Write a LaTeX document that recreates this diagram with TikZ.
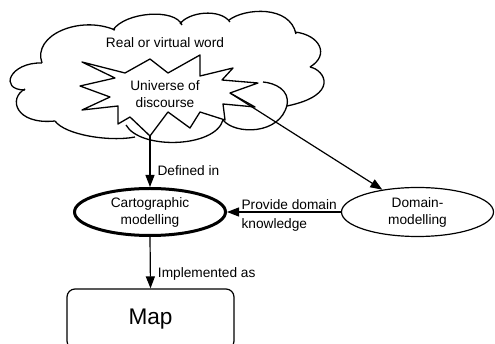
\documentclass[tikz,border=0pt]{standalone}
\usepackage{fontspec}
\setmainfont{Liberation Sans}
\usetikzlibrary{shapes.geometric,arrows.meta}
\begin{document}
\begin{tikzpicture}[x=1pt,y=-1pt,
  line width=1.2pt, line join=round,
  txt/.style={font=\fontsize{13.7}{17}\selectfont, inner sep=0pt, align=center},
  lbl/.style={font=\fontsize{13.7}{17}\selectfont, inner sep=0pt},
  arr/.style={-{Triangle[length=12pt,width=9pt]}, line width=1.2pt},
  oval/.style={ellipse, draw, inner sep=0pt, align=center, font=\fontsize{13.7}{17}\selectfont},
  cloudline/.style={line width=1.3pt}
]
\useasboundingbox (0,0) rectangle (495,344);
\clip (0,0) rectangle (495,344);

% cloud lobes
\draw[cloudline] (42,63) .. controls (32,35) and (80,15) .. (115,30);
\draw[cloudline] (113,30) .. controls (125,12) and (175,8) .. (182,25);
\draw[cloudline] (180,24) .. controls (188,12) and (220,8) .. (230,22);
\draw[cloudline] (229,20) .. controls (245,8) and (290,5) .. (296,34);
\draw[cloudline] (295,32) .. controls (320,35) and (330,55) .. (310,67);
\draw[cloudline] (310,67) .. controls (325,70) and (340,95) .. (287,106);
\draw[cloudline] (223,120) .. controls (235,135) and (280,135) .. (287,105)
                 .. controls (290,90) and (275,83) .. (263,82);
\draw[cloudline] (126,125) .. controls (140,150) and (215,148) .. (223,120);
\draw[cloudline] (55,121) .. controls (65,135) and (110,142) .. (135,137);
\draw[cloudline] (25,89) .. controls (8,98) and (15,125) .. (55,121);
\draw[cloudline] (42,63) .. controls (10,62) and (-2,90) .. (25,90);

% starburst
\draw[cloudline] (82,62) -- (125,73) -- (150,59) -- (168,73) -- (200,55) -- (200,76)
  -- (233,68) -- (222,80) -- (258,83) -- (230,93) -- (255,107) -- (223,104)
  -- (225,120) -- (200,112) -- (190,128) -- (168,112) -- (150,136) -- (130,117)
  -- (118,124) -- (118,106) -- (82,110) -- (110,97) -- (80,86) -- (115,78) -- cycle;

\coordinate (startip) at (150,136);
\coordinate (starright) at (230,93);

\node[txt] (world) at (165,43) {Real or virtual word};
\node[txt] (universe) at (165,94) {Universe of\\discourse};

\node[oval, line width=3pt, minimum width=151pt, minimum height=47pt] (carto) at (150,212) {Cartographic\\modelling};
\node[oval, minimum width=152pt, minimum height=49pt] (domain) at (417.5,212) {Domain-\\modelling};

\node[draw, rounded corners=8pt, minimum width=167pt, minimum height=60pt, inner sep=0pt,
      font=\fontsize{22.6}{26}\selectfont] (map) at (150.5,319) {Map};

\draw[arr] (startip) -- (carto.north) node[lbl, pos=0.68, anchor=west, xshift=7pt] (lab1) {Defined in};
\draw[arr] (starright) -- (domain);
\draw[arr] (domain.west) -- (carto.east)
  node[lbl, pos=1, anchor=south west, xshift=14pt, yshift=2pt] (lab2) {Provide domain}
  node[lbl, pos=1, anchor=north west, xshift=14pt, yshift=-6pt] (lab3) {knowledge};
\draw[arr] (carto.south) -- (map.north) node[lbl, pos=0.72, anchor=west, xshift=7pt] (lab4) {Implemented as};
\end{tikzpicture}
\end{document}
